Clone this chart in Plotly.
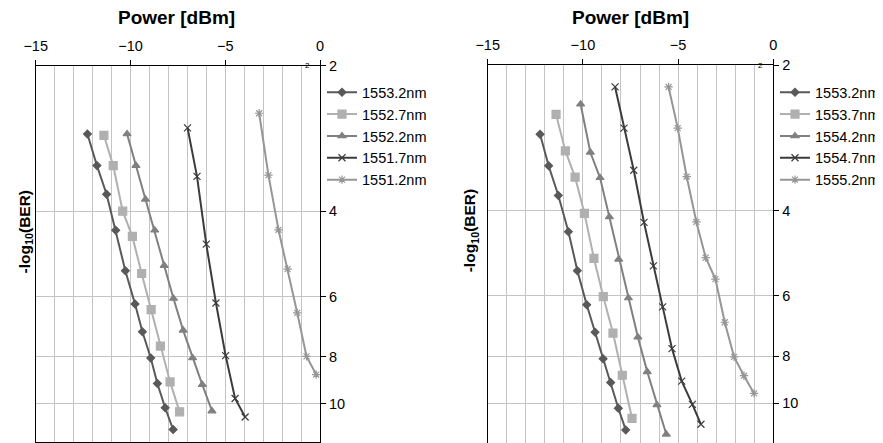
import numpy as np
import plotly.graph_objects as go

# ---------------- data ----------------
x_ticks = [-15, -10, -5, 0]
y_ticks = [2, 4, 6, 8, 10]

left_names = ["1553.2nm", "1552.7nm", "1552.2nm", "1551.7nm", "1551.2nm"]
L_1553_2_x = [-12.27, -11.77, -11.26, -10.78, -10.27, -9.76, -9.37, -8.93, -8.58, -8.17, -7.75]
L_1553_2_y = [2.77, 3.22, 3.69, 4.38, 5.31, 6.22, 7.10, 8.04, 9.08, 10.19, 11.30]
L_1552_7_x = [-11.40, -10.91, -10.41, -9.90, -9.41, -8.91, -8.42, -7.91, -7.41]
L_1552_7_y = [2.79, 3.22, 4.00, 4.51, 5.38, 6.39, 7.60, 9.01, 10.39]
L_1552_2_x = [-10.18, -9.71, -9.21, -8.72, -8.22, -7.73, -7.22, -6.72, -6.21, -5.70]
L_1552_2_y = [2.77, 3.22, 3.78, 4.38, 5.18, 6.06, 7.05, 8.04, 9.13, 10.35]
L_1551_7_x = [-6.99, -6.49, -6.00, -5.49, -4.98, -4.48, -3.95]
L_1551_7_y = [2.69, 3.39, 4.68, 6.19, 7.95, 9.75, 10.65]
L_1551_2_x = [-3.21, -2.72, -2.19, -1.71, -1.20, -0.71, -0.20]
L_1551_2_y = [2.51, 3.37, 4.37, 5.27, 6.49, 7.98, 8.70]

right_names = ["1553.2nm", "1553.7nm", "1554.2nm", "1554.7nm", "1555.2nm"]
R_1553_2_x = [-12.25, -11.80, -11.29, -10.76, -10.29, -9.80, -9.36, -8.94, -8.54, -8.14, -7.75]
R_1553_2_y = [2.78, 3.23, 3.72, 4.42, 5.32, 6.26, 7.13, 8.09, 9.06, 10.24, 11.35]
R_1553_7_x = [-11.41, -10.92, -10.41, -9.92, -9.42, -8.93, -8.42, -7.93, -7.42]
R_1553_7_y = [2.53, 3.01, 3.41, 4.05, 5.02, 6.02, 7.16, 8.75, 10.74]
R_1554_2_x = [-10.12, -9.61, -9.10, -8.61, -8.12, -7.61, -7.11, -6.62, -6.11, -5.62]
R_1554_2_y = [2.41, 3.03, 3.42, 4.12, 5.04, 6.06, 7.30, 8.61, 10.08, 11.59]
R_1554_7_x = [-8.31, -7.84, -7.33, -6.79, -6.30, -5.81, -5.32, -4.81, -4.25, -3.80]
R_1554_7_y = [2.22, 2.70, 3.30, 4.23, 5.20, 6.32, 7.71, 9.00, 10.05, 11.05]
R_1555_2_x = [-5.50, -5.02, -4.55, -4.04, -3.55, -3.04, -2.55, -2.06, -1.54, -1.01]
R_1555_2_y = [2.22, 2.70, 3.40, 4.22, 5.00, 5.54, 6.80, 8.02, 8.77, 9.54]

# ---------------- styles ----------------
W, H = 883, 443
OFF = 8  # default page margin of the html body
FONT = "Liberation Sans, Arial, sans-serif"
colors = ["#595959", "#B0B0B0", "#808080", "#3C3C3C", "#969696"]
symbols = ["diamond", "square", "triangle-up", "x-thin-open", "asterisk-open"]
msizes = [6, 8, 7, 7, 7]

left_series = [(L_1553_2_x, L_1553_2_y), (L_1552_7_x, L_1552_7_y), (L_1552_2_x, L_1552_2_y),
               (L_1551_7_x, L_1551_7_y), (L_1551_2_x, L_1551_2_y)]
right_series = [(R_1553_2_x, R_1553_2_y), (R_1553_7_x, R_1553_7_y), (R_1554_2_x, R_1554_2_y),
                (R_1554_7_x, R_1554_7_y), (R_1555_2_x, R_1555_2_y)]

fig = go.Figure()
for i, (xs, ys) in enumerate(left_series):
    fig.add_trace(go.Scatter(
        x=xs, y=ys, name=left_names[i], mode="lines+markers", xaxis="x", yaxis="y",
        legend="legend",
        line=dict(color=colors[i], width=2),
        marker=dict(symbol=symbols[i], size=msizes[i], color=colors[i],
                    line=dict(color=colors[i], width=1.2)),
    ))
for i, (xs, ys) in enumerate(right_series):
    fig.add_trace(go.Scatter(
        x=xs, y=ys, name=right_names[i], mode="lines+markers", xaxis="x2", yaxis="y2",
        legend="legend2",
        line=dict(color=colors[i], width=2),
        marker=dict(symbol=symbols[i], size=msizes[i], color=colors[i],
                    line=dict(color=colors[i], width=1.2)),
    ))

def px_x(p):
    return (p - OFF) / W

def px_y(p):
    return 1 - (p - OFF) / H

PPD = 484.0  # pixels per decade on the y axis

def xaxis_cfg(left, right, anchor):
    return dict(
        domain=[px_x(left), px_x(right)], anchor=anchor, side="top", automargin=False,
        range=[-15, 0], tickvals=x_ticks, ticks="outside", ticklen=5, tickcolor="black",
        ticklabelstandoff=3,
        showline=True, linecolor="black", linewidth=1, mirror=True,
        showgrid=True, gridcolor="#C4C4C4", gridwidth=1,
        minor=dict(dtick=1, showgrid=True, gridcolor="#C4C4C4", gridwidth=1, ticks=""),
        tickfont=dict(family=FONT, size=14.5, color="black"),
        zeroline=False,
    )

def yaxis_cfg(top, bottom, anchor):
    bottom_log = np.log10(2) + (bottom - top) / PPD
    return dict(
        domain=[max(0, px_y(bottom)), px_y(top)], anchor=anchor, side="right", type="log",
        automargin=False,
        range=[bottom_log, np.log10(2)], tickvals=y_ticks, ticktext=[str(v) for v in y_ticks],
        ticks="outside", ticklen=5, tickcolor="black",
        showline=True, linecolor="black", linewidth=1, mirror=True,
        showgrid=True, gridcolor="#C4C4C4", gridwidth=1,
        tickfont=dict(family=FONT, size=14.5, color="black"),
        zeroline=False,
    )

legend_common = dict(
    font=dict(family=FONT, size=14.5, color="black"),
    bgcolor="rgba(0,0,0,0)", borderwidth=0, xanchor="left", yanchor="top",
    itemwidth=30, tracegroupgap=0,
)

ann = []
for cx in [176.7, 630.5]:
    ann.append(dict(text="<b>Power [dBm]</b>", x=px_x(cx), y=px_y(18), xref="paper", yref="paper",
                    showarrow=False, xanchor="center", yanchor="middle",
                    font=dict(family=FONT, size=19, color="black")))
for cx, cy in [(25.8, 231.7), (470.3, 230.0)]:
    ann.append(dict(text="<b>-log<sub>10</sub>(BER)</b>", x=px_x(cx), y=px_y(cy), xref="paper",
                    yref="paper", showarrow=False, xanchor="center", yanchor="middle",
                    textangle=-90, font=dict(family=FONT, size=15.5, color="black")))
for cx in [307.5, 760.0]:
    ann.append(dict(text="2", x=px_x(cx), y=px_y(65.5), xref="paper", yref="paper",
                    showarrow=False, xanchor="center", yanchor="middle",
                    font=dict(family=FONT, size=8, color="black")))

fig.update_layout(
    template="none",
    width=W, height=H, margin=dict(l=0, r=0, t=0, b=0, autoexpand=False),
    paper_bgcolor="white", plot_bgcolor="white",
    font=dict(family=FONT, color="black"),
    xaxis=xaxis_cfg(35.7, 320.0, "y"),
    yaxis=yaxis_cfg(65.5, 441.5, "x"),
    xaxis2=xaxis_cfg(487.7, 773.3, "y2"),
    yaxis2=yaxis_cfg(65.0, 443.0 + OFF, "x2"),
    legend=dict(x=px_x(322), y=px_y(76.3), **legend_common),
    legend2=dict(x=px_x(775), y=px_y(76.3), **legend_common),
    annotations=ann,
    showlegend=True,
)

fig.write_html("out.html")
